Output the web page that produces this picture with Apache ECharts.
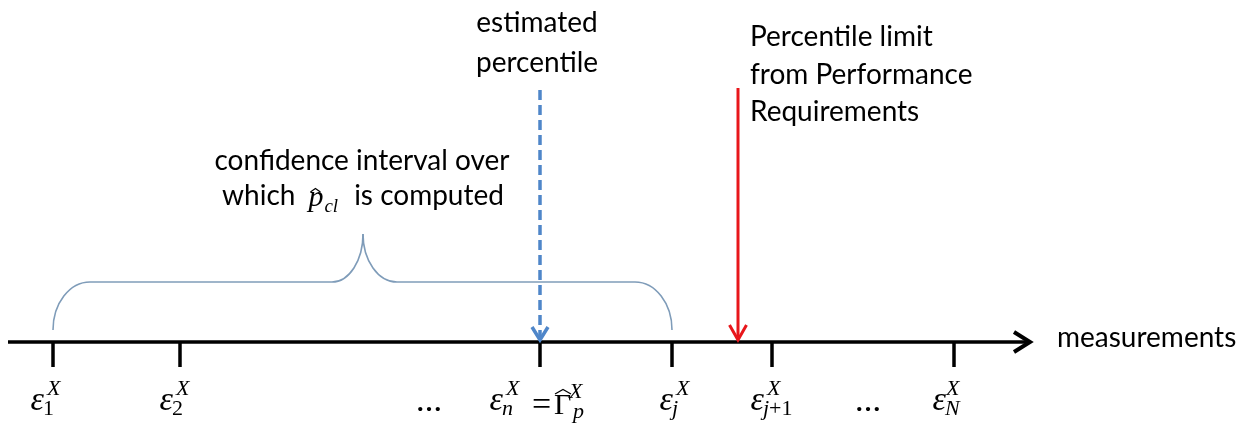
<!DOCTYPE html>
<html><head><meta charset="utf-8">
<script src="https://cdn.jsdelivr.net/npm/echarts@6/dist/echarts.min.js"></script>
<style>html,body{margin:0;padding:0;background:#fff;overflow:hidden}#c{width:1255px;height:427px}</style>
</head><body><div id="c"></div>
<script>
// ---------- data (diagram units along the measurement axis) ----------
const measurementPositions = [53, 180, 540, 672, 772, 954];
const measurementSubscripts = ['1', '2', 'n', 'j', 'j+1', 'N'];
const measurementSuperscript = 'X';
const measurementSymbol = 'ε';
const ellipsisPositions = [429, 868];
const estimatedPercentilePosition = 540;
const percentileLimitPosition = 738;
const estimatorSymbol = ['Γ', 'p', 'X'];          // base, subscript, superscript
const confidenceIntervalRange = [53, 672];
const confidenceIntervalTip = 363;
const axisRange = [8, 1030];
const axisName = 'measurements';
const estimatedPercentileText = ['estimated', 'percentile'];
const percentileLimitText = ['Percentile limit', 'from Performance', 'Requirements'];
const confidenceTextLine1 = 'confidence interval over';
const confidenceTextLine2 = ['which', 'p', 'cl', 'is computed'];

// ---------- layout / style ----------
const AXIS_Y = 342, TICK_LEN = 25, ARROW_TOP = 90;
const BRACE_FOOT = 330, BRACE_BAR = 282, BRACE_PEAK = 234;
const LABEL_NUDGE = [-10, -8, -38, 0, -9, -9];
const SANS = 'Lato, "Open Sans", sans-serif';
const SERIF = '"Liberation Serif", "DejaVu Serif", serif';
const K_SANS = 0.39, K_SERIF = 0.3375;
const BLUE = '#4f86c9', RED = '#e8161b', BRACE = '#7f9cb9';

const mctx = document.createElement('canvas').getContext('2d');
function tw(text, font) { mctx.font = font; return mctx.measureText(text).width; }
function T(text, x, baseline, size, family, style, align, color) {
  const k = family === SANS ? K_SANS : K_SERIF;
  return { type: 'text', style: {
    text, x, y: baseline - k * size, font: (style || '') + ' ' + size + 'px ' + family,
    align: align || 'left', verticalAlign: 'middle', fill: color || '#000' } };
}
function richSub(s) {
  // letters italic, digits/operators upright
  let out = '', cur = '', curType = null;
  for (const ch of s) {
    const t = /[A-Za-z]/.test(ch) ? 'i' : 'r';
    if (t !== curType && cur) { out += '{' + curType + '|' + cur + '}'; cur = ''; }
    curType = t; cur += ch;
  }
  if (cur) out += '{' + curType + '|' + cur + '}';
  return out;
}
function hat(x1, x2, yBase, h) {
  return { type: 'polyline', shape: { points: [[x1, yBase], [(x1 + x2) / 2, yBase - h], [x2, yBase]] },
    style: { stroke: '#000', lineWidth: 1.2, fill: null } };
}

const chart = echarts.init(document.getElementById('c'));
const base = { animation: false, silent: true, coordinateSystem: 'cartesian2d' };

function textBlock(lines, anchorX, firstBaseline, gap, align, size) {
  return Object.assign({}, base, {
    type: 'custom', z: 5,
    data: lines.map((t, i) => [anchorX, firstBaseline + i * gap, i]),
    renderItem(params, api) {
      const p = api.coord([api.value(0), api.value(1)]);
      return T(lines[api.value(2)], p[0], p[1], size, SANS, '', align);
    }
  });
}

const option = {
  animation: false,
  grid: { left: 0, right: 0, top: 0, bottom: 0, containLabel: false },
  xAxis: { type: 'value', min: 0, max: 1255, show: false },
  yAxis: { type: 'value', min: 0, max: 427, inverse: true, show: false },
  series: [
    // measurement axis
    Object.assign({}, base, {
      type: 'line', symbol: 'none', z: 3,
      data: [[axisRange[0], AXIS_Y], [axisRange[1] - 2, AXIS_Y]],
      lineStyle: { color: '#000', width: 3.5, cap: 'butt' }
    }),
    Object.assign({}, base, {
      type: 'custom', z: 3, data: [[axisRange[1], AXIS_Y]],
      renderItem(params, api) {
        const p = api.coord([api.value(0), api.value(1)]);
        return { type: 'polyline', shape: { points: [[p[0] - 16, p[1] - 10], [p[0], p[1]], [p[0] - 16, p[1] + 10]] },
          style: { stroke: '#000', lineWidth: 4, fill: null, lineJoin: 'miter' } };
      }
    }),
    // ticks
    Object.assign({}, base, {
      type: 'custom', z: 3, data: measurementPositions.map(x => [x, AXIS_Y]),
      renderItem(params, api) {
        const a = api.coord([api.value(0), api.value(1)]);
        const b = api.coord([api.value(0), api.value(1) + TICK_LEN]);
        return { type: 'line', shape: { x1: a[0], y1: a[1] - 1, x2: b[0], y2: b[1] },
          style: { stroke: '#000', lineWidth: 3.5 } };
      }
    }),
    // tick labels
    Object.assign({}, base, {
      type: 'custom', z: 4, data: measurementPositions.map((x, i) => [x, AXIS_Y, i]),
      renderItem(params, api) {
        const i = api.value(2);
        const p = api.coord([api.value(0), api.value(1)]);
        const x0 = p[0] + LABEL_NUDGE[i], ay = p[1];
        const sub = measurementSubscripts[i];
        const kids = [];
        kids.push(T(measurementSymbol, x0 + 1, ay + 71, 34, SERIF, 'italic', 'right'));
        kids.push(T(measurementSuperscript, x0 + (sub === 'N' ? 1 : 4), ay + 55, 22, SERIF, 'italic', 'left'));
        const subEl = T(richSub(sub), x0, ay + 75, 22, SERIF, '', 'left');
        subEl.style.rich = { i: { font: 'italic 22px ' + SERIF }, r: { font: '22px ' + SERIF } };
        kids.push(subEl);
        if (api.value(0) === estimatedPercentilePosition) {
          kids.push(T('=', p[0] - 8, ay + 76, 34, SERIF, '', 'left'));
          const gx = p[0] + 14;
          kids.push(T(estimatorSymbol[0], gx, ay + 74, 30, SERIF, '', 'left'));
          kids.push(hat(gx + 1, gx + 17, ay + 52, 4.5));
          kids.push(T(estimatorSymbol[1], gx + 19, ay + 78, 22, SERIF, 'italic', 'left'));
          kids.push(T(estimatorSymbol[2], gx + 15, ay + 58, 22, SERIF, 'italic', 'left'));
        }
        return { type: 'group', children: kids };
      }
    }),
    // ellipses
    Object.assign({}, base, {
      type: 'custom', z: 4, data: ellipsisPositions.map(x => [x, AXIS_Y]),
      renderItem(params, api) {
        const p = api.coord([api.value(0), api.value(1)]);
        return T('…', p[0], p[1] + 71, 26, SERIF, 'bold', 'center');
      }
    }),
    // estimated percentile arrow (dashed)
    Object.assign({}, base, {
      type: 'custom', z: 4, data: [[estimatedPercentilePosition, ARROW_TOP]],
      renderItem(params, api) {
        const t = api.coord([api.value(0), api.value(1)]);
        const tip = api.coord([api.value(0), AXIS_Y - 2]);
        return { type: 'group', children: [
          { type: 'line', shape: { x1: t[0], y1: t[1], x2: tip[0], y2: tip[1] - 3 },
            style: { stroke: BLUE, lineWidth: 3.5, lineDash: [10, 5] } },
          { type: 'polyline', shape: { points: [[tip[0] - 8, tip[1] - 13], [tip[0], tip[1]], [tip[0] + 8, tip[1] - 13]] },
            style: { stroke: BLUE, lineWidth: 3.5, fill: null, lineJoin: 'miter' } }
        ] };
      }
    }),
    // percentile limit arrow (solid red)
    Object.assign({}, base, {
      type: 'custom', z: 4, data: [[percentileLimitPosition, ARROW_TOP - 2]],
      renderItem(params, api) {
        const t = api.coord([api.value(0), api.value(1)]);
        const tip = api.coord([api.value(0), AXIS_Y - 2]);
        return { type: 'group', children: [
          { type: 'line', shape: { x1: t[0], y1: t[1], x2: tip[0], y2: tip[1] - 2 },
            style: { stroke: RED, lineWidth: 3 } },
          { type: 'polyline', shape: { points: [[tip[0] - 8.5, tip[1] - 15], [tip[0], tip[1]], [tip[0] + 8.5, tip[1] - 15]] },
            style: { stroke: RED, lineWidth: 3, fill: null, lineJoin: 'miter' } }
        ] };
      }
    }),
    // confidence interval brace
    Object.assign({}, base, {
      type: 'custom', z: 2, data: [[confidenceIntervalRange[0], confidenceIntervalRange[1], confidenceIntervalTip]],
      renderItem(params, api) {
        const L = api.value(0), R = api.value(1), M = api.value(2);
        const c = (x, y) => api.coord([x, y]);
        const k = 0.5523;
        const rL = 37, rM = 31, rR = 37;
        const bez = (p1, c1, c2, p2) => ({ type: 'bezierCurve',
          shape: { x1: p1[0], y1: p1[1], cpx1: c1[0], cpy1: c1[1], cpx2: c2[0], cpy2: c2[1], x2: p2[0], y2: p2[1] },
          style: { stroke: BRACE, lineWidth: 1.6, fill: null } });
        const ln = (p1, p2) => ({ type: 'line', shape: { x1: p1[0], y1: p1[1], x2: p2[0], y2: p2[1] },
          style: { stroke: BRACE, lineWidth: 1.6 } });
        const hL = BRACE_FOOT - BRACE_BAR, hM = BRACE_BAR - BRACE_PEAK;
        return { type: 'group', children: [
          bez(c(L, BRACE_FOOT), c(L, BRACE_FOOT - k * hL), c(L + rL - k * rL, BRACE_BAR), c(L + rL, BRACE_BAR)),
          ln(c(L + rL, BRACE_BAR), c(M - rM, BRACE_BAR)),
          bez(c(M - rM, BRACE_BAR), c(M - rM + k * rM, BRACE_BAR), c(M, BRACE_PEAK + k * hM), c(M, BRACE_PEAK)),
          bez(c(M, BRACE_PEAK), c(M, BRACE_PEAK + k * hM), c(M + rM + 3 - k * (rM + 3), BRACE_BAR), c(M + rM + 3, BRACE_BAR)),
          ln(c(M + rM + 3, BRACE_BAR), c(R - rR, BRACE_BAR)),
          bez(c(R - rR, BRACE_BAR), c(R - rR + k * rR, BRACE_BAR), c(R, BRACE_FOOT - k * hL), c(R, BRACE_FOOT))
        ] };
      }
    }),
    // texts
    textBlock(estimatedPercentileText, estimatedPercentilePosition - 3, 34, 40, 'center', 28),
    textBlock(percentileLimitText, percentileLimitPosition + 12, 48, 37.5, 'left', 28),
    textBlock([axisName], axisRange[1] + 27, 349, 0, 'left', 28),
    textBlock([confidenceTextLine1], confidenceIntervalTip - 1, 172, 0, 'center', 28),
    Object.assign({}, base, {
      type: 'custom', z: 5, data: [[confidenceIntervalTip, 207]],
      renderItem(params, api) {
        const p = api.coord([api.value(0), api.value(1)]);
        const fS = '28px ' + SANS, fP = 'italic 30px ' + SERIF, fC = 'italic 19px ' + SERIF;
        const [w1, pv, cl, w2] = confidenceTextLine2;
        const a = tw(w1, fS), b = tw(pv, fP), cw = tw(cl, fC), d = tw(w2, fS);
        const total = a + 13 + b + 1 + cw + 16 + d;
        let x = p[0] - total / 2;
        const kids = [];
        kids.push(T(w1, x, p[1], 28, SANS, '', 'left'));
        x += a + 13;
        kids.push(T(pv, x, p[1] + 1, 30, SERIF, 'italic', 'left'));
        kids.push(hat(x + 2, x + 12, p[1] - 15, 3.5));
        x += b + 1;
        kids.push(T(cl, x, p[1] + 6, 19, SERIF, 'italic', 'left'));
        x += cw + 16;
        kids.push(T(w2, x, p[1], 28, SANS, '', 'left'));
        return { type: 'group', children: kids };
      }
    })
  ]
};
chart.setOption(option);
</script>
</body></html>
